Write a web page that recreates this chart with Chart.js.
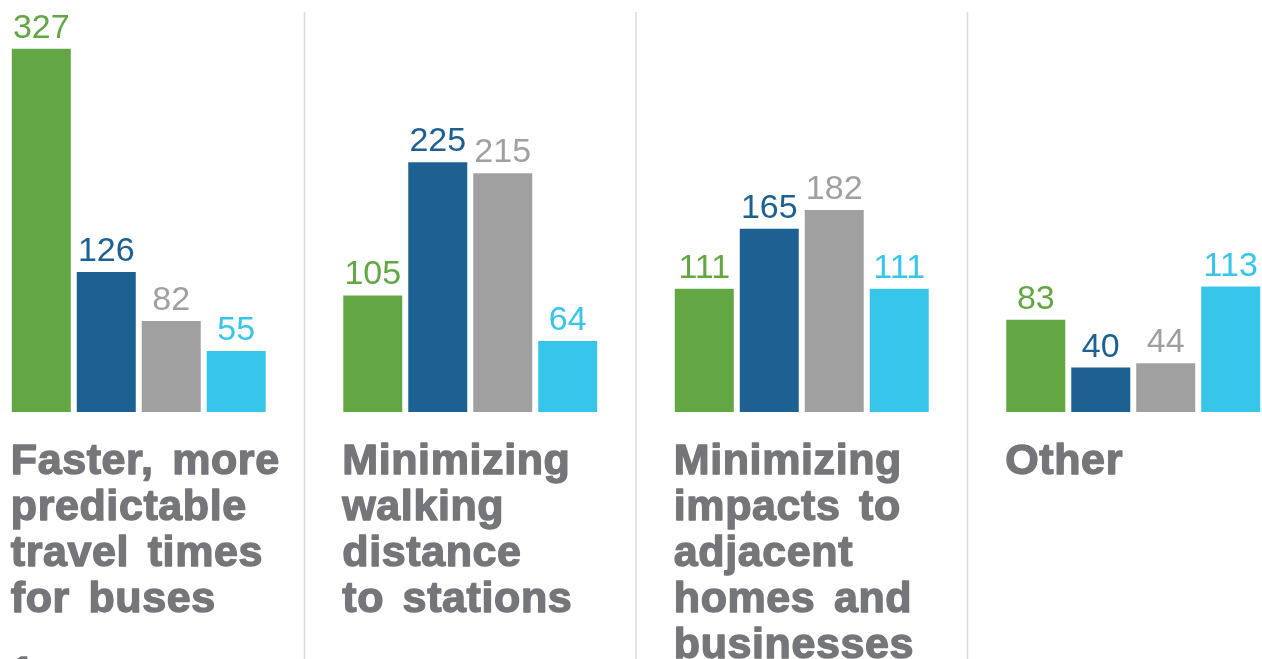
<!DOCTYPE html>
<html>
<head>
<meta charset="utf-8">
<script src="https://cdn.jsdelivr.net/npm/chart.js@4.4.0/dist/chart.umd.min.js"></script>
<style>
  html, body { margin:0; padding:0; background:#ffffff; overflow:hidden; width:1262px; height:659px; }
  #wrap { position:absolute; left:-27px; top:0; width:1326px; height:659px; }
</style>
</head>
<body>
<div id="wrap"><canvas id="c" width="1326" height="659"></canvas></div>
<script>
const categories = [
  ["Faster, more", "predictable", "travel times", "for buses"],
  ["Minimizing", "walking", "distance", "to stations"],
  ["Minimizing", "impacts to", "adjacent", "homes and", "businesses"],
  ["Other"]
];
const seriesGreen = [327, 105, 111, 83];
const seriesDarkBlue = [126, 225, 165, 40];
const seriesGray = [82, 215, 182, 44];
const seriesLightBlue = [55, 64, 111, 113];
const seriesColors = ["#62a744", "#1d6193", "#a0a0a0", "#38c5ea"];
const footnoteText = "1";

const textGray = "#75767a";

const labelPlugin = {
  id: "customLabels",
  afterDatasetsDraw(chart) {
    const ctx = chart.ctx;
    ctx.save();
    // value labels
    chart.data.datasets.forEach((ds, di) => {
      const meta = chart.getDatasetMeta(di);
      meta.data.forEach((bar, i) => {
        ctx.fillStyle = ds.backgroundColor;
        ctx.font = "34px 'Liberation Sans', Arial, sans-serif";
        ctx.textAlign = "center";
        ctx.textBaseline = "alphabetic";
        ctx.fillText(String(ds.data[i]), bar.x, bar.y - 11);
      });
    });
    // separators
    const xs = chart.scales.x;
    ctx.strokeStyle = "#dcdcdc";
    ctx.lineWidth = 1.5;
    for (let i = 0; i < categories.length - 1; i++) {
      const px = (xs.getPixelForValue(i) + xs.getPixelForValue(i + 1)) / 2;
      ctx.beginPath();
      ctx.moveTo(px, 12);
      ctx.lineTo(px, chart.height);
      ctx.stroke();
    }
    // category labels
    const meta0 = chart.getDatasetMeta(0);
    const drawHeavy = (txt, x, y) => {
      ctx.fillText(txt, x, y);
      ctx.strokeText(txt, x, y);
    };
    ctx.fillStyle = textGray;
    ctx.strokeStyle = textGray;
    ctx.lineWidth = 1.4;
    ctx.lineJoin = "round";
    ctx.font = "bold 43px 'Liberation Sans', Arial, sans-serif";
    try { ctx.wordSpacing = "6px"; ctx.letterSpacing = "0.6px"; } catch (e) {}
    ctx.textAlign = "left";
    ctx.textBaseline = "alphabetic";
    categories.forEach((lines, i) => {
      const bar = meta0.data[i];
      const left = bar.x - bar.width / 2 - 1;
      lines.forEach((ln, k) => {
        drawHeavy(ln, left, 474 + k * 46);
      });
    });
    // footnote fragment
    const bar0 = meta0.data[0];
    drawHeavy(footnoteText, bar0.x - bar0.width / 2 - 1, 686);
    ctx.restore();
  }
};

new Chart(document.getElementById("c"), {
  type: "bar",
  data: {
    labels: categories.map(c => c.join(" ")),
    datasets: [
      { data: seriesGreen, backgroundColor: seriesColors[0] },
      { data: seriesDarkBlue, backgroundColor: seriesColors[1] },
      { data: seriesGray, backgroundColor: seriesColors[2] },
      { data: seriesLightBlue, backgroundColor: seriesColors[3] }
    ]
  },
  options: {
    responsive: false,
    animation: false,
    devicePixelRatio: 1,
    layout: { padding: { top: 0, bottom: 247, left: 0, right: 0 } },
    datasets: { bar: { categoryPercentage: 0.784, barPercentage: 0.908, borderWidth: 0 } },
    plugins: { legend: { display: false }, tooltip: { enabled: false } },
    scales: {
      x: { display: false },
      y: { display: false, min: 0, max: 371 }
    }
  },
  plugins: [labelPlugin]
});
</script>
</body>
</html>
